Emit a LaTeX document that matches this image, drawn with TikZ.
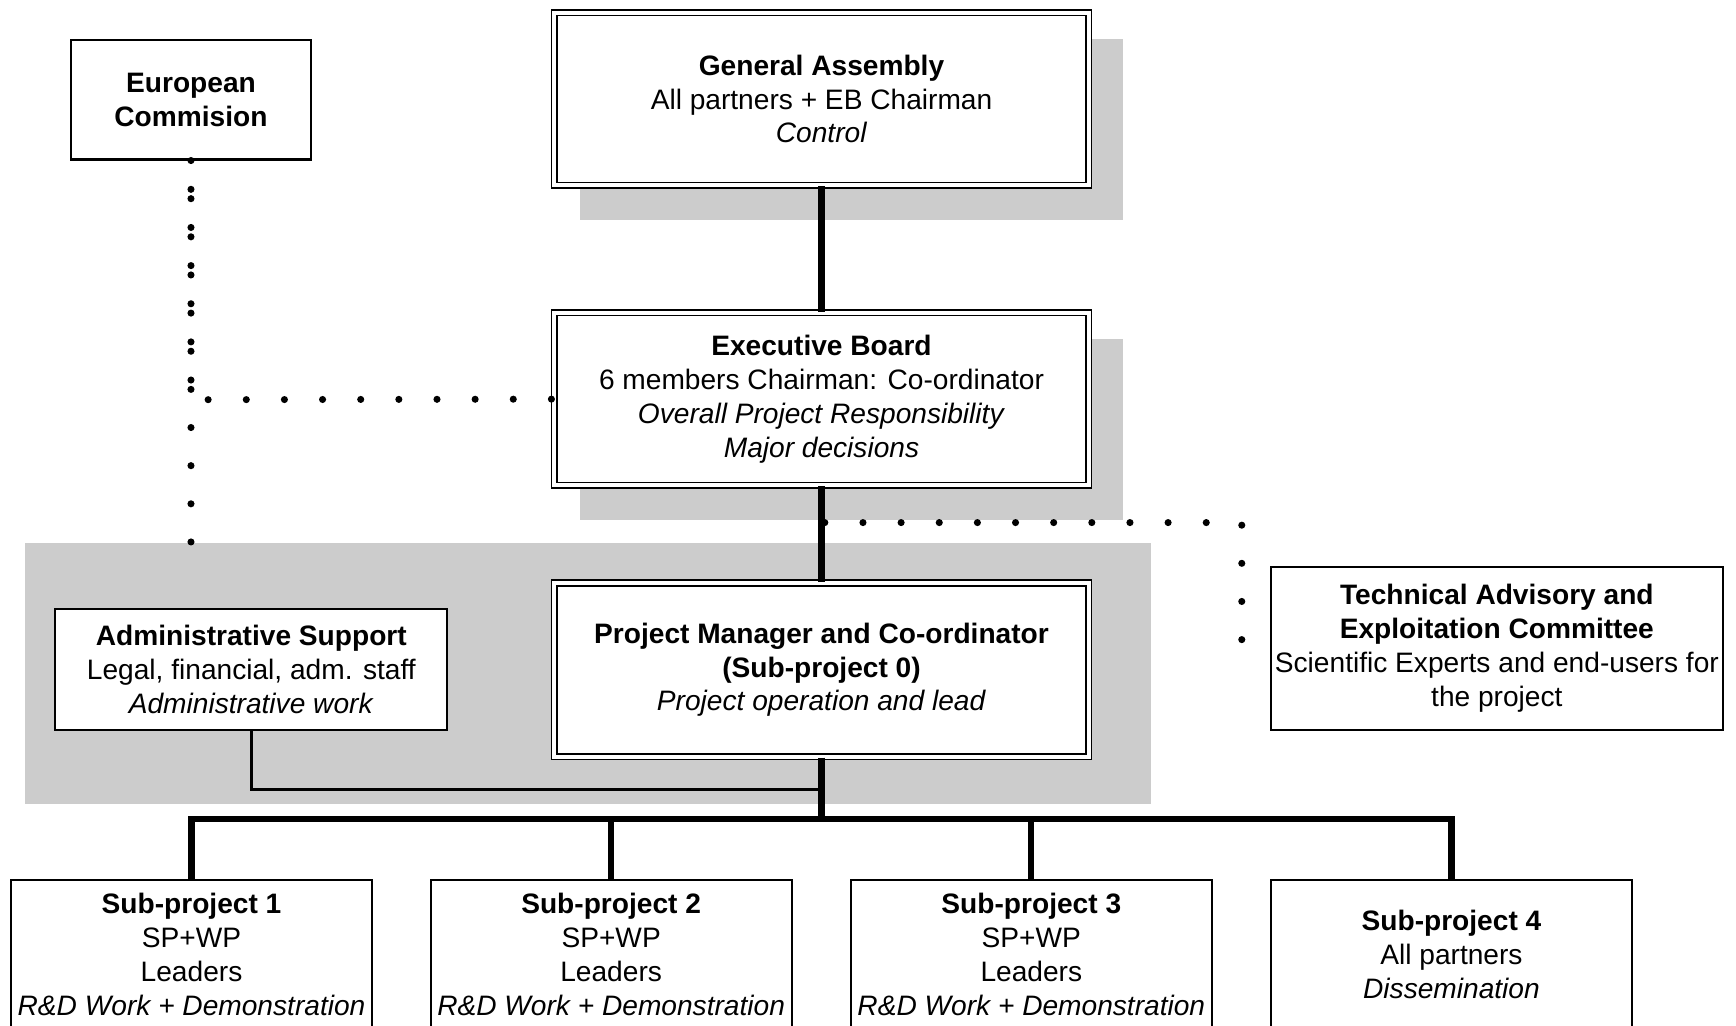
\documentclass[tikz,border=0pt]{standalone}
\usepackage{fontspec}
\setmainfont{Liberation Sans}
\newcommand{\boxfont}{\fontsize{25.4}{30.5}\selectfont}
\tikzset{
  box/.style={draw=black, line width=2pt, fill=white, inner sep=0pt, align=center, font=\boxfont},
  dbox/.style={box, double, line width=1.5pt, double distance=3.6pt},
  thickline/.style={line width=5.6pt},
  thinline/.style={line width=2.6pt},
  dotline/.style={line width=6.4pt, line cap=round, dash pattern=on 0pt off 34.45pt},
  shadowfill/.style={draw=none, fill=black!20}
}
\begin{document}
\begin{tikzpicture}[x=1pt,y=-1pt]

	%Frame
	\useasboundingbox (0,0) rectangle (1568,926);
	\clip (0,0) rectangle (1568,926);

	%Shadows
	\fill[shadowfill] (524,35) rectangle (1014,199);
	\fill[shadowfill] (524,306) rectangle (1014,470);

	%Management panel
	\fill[shadowfill] (23,490) rectangle (1040,726);

	%Boards
	\node[dbox, minimum width=482.5pt, minimum height=156pt] (ga) at (742,89.5)
		{\textbf{General Assembly}\\All partners + EB Chairman\\\textit{Control}};
	\node[dbox, minimum width=482.5pt, minimum height=156pt] (eb) at (742,360.5)
		{\textbf{Executive Board}\\6 members Chairman: Co-ordinator\\\textit{Overall Project Responsibility}\\\textit{Major decisions}};
	\node[dbox, minimum width=482.5pt, minimum height=157pt] (pm) at (742,605)
		{\textbf{Project Manager and Co-ordinator}\\\textbf{(Sub-project 0)}\\\textit{Project operation and lead}};

	%Side boxes
	\node[box, minimum width=217pt, minimum height=108pt] (ec) at (172.5,90)
		{\textbf{European}\\\textbf{Commision}};
	\node[box, minimum width=354pt, minimum height=109pt] (as) at (227,604.5)
		{\textbf{Administrative Support}\\Legal, financial, adm. staff\\\textit{Administrative work}};
	\node[box, minimum width=408pt, minimum height=147pt] (taec) at (1352,585.5)
		{\textbf{Technical Advisory and}\\\textbf{Exploitation Committee}\\Scientific Experts and end-users for\\the project};

	%Sub-projects
	\node[box, minimum width=326pt, minimum height=134pt] (sp1) at (173,862)
		{\textbf{Sub-project 1}\\SP+WP\\Leaders\\\textit{R\&D Work + Demonstration}};
	\node[box, minimum width=326pt, minimum height=134pt] (sp2) at (552,862)
		{\textbf{Sub-project 2}\\SP+WP\\Leaders\\\textit{R\&D Work + Demonstration}};
	\node[box, minimum width=326pt, minimum height=134pt] (sp3) at (931.5,862)
		{\textbf{Sub-project 3}\\SP+WP\\Leaders\\\textit{R\&D Work + Demonstration}};
	\node[box, minimum width=326pt, minimum height=134pt] (sp4) at (1311,862)
		{\textbf{Sub-project 4}\\All partners\\\textit{Dissemination}};

	%Hierarchy
	\coordinate (admj) at (742,713);
	\coordinate (busj) at (742,740);
	\draw[thickline] (ga.south) -- (eb.north);
	\draw[thickline] (eb.south) -- (pm.north);
	\draw[thinline] (as.south) |- (admj);
	\draw[thickline] (pm.south) -- (busj);
	\draw[thickline] (sp1.north) |- (sp4.north |- busj) -- (sp4.north);
	\draw[thickline] (sp2.north) -- (sp2.north |- busj);
	\draw[thickline] (sp3.north) -- (sp3.north |- busj);

	%Advisory links
	\coordinate (ecend) at (172.5,492);
	\coordinate (ecmid) at (172.5,350);
	\coordinate (ebl) at (188,361);
	\coordinate (ebr) at (745,472);
	\coordinate (taecc) at (1121.6,472);
	\draw[dotline] (ec.south) -- (ecend);
	\draw[dotline] ([yshift=-26pt]ec.south) -- (ecmid);
	\draw[dotline] (ebl) -- (eb.west);
	\draw[dotline] (ebr) -- (taecc) |- (taec.west);

\end{tikzpicture}
\end{document}
